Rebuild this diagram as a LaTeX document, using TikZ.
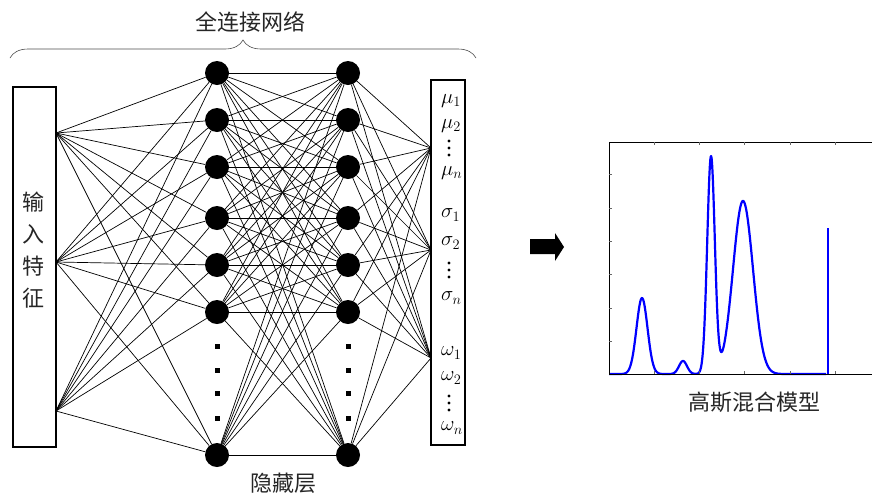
\documentclass[tikz,border=0pt]{standalone}
\usepackage{fontspec}
\newfontfamily\cjk{Noto Sans CJK SC}
\usetikzlibrary{decorations.pathreplacing}
\begin{document}
\begin{tikzpicture}[x=1pt,y=-1pt,
  neuron/.style={circle,fill=black,minimum size=24pt,inner sep=0pt},
  link/.style={line width=0.7pt,black},
  frame/.style={line width=1.2pt,black},
  lab/.style={anchor=west,inner sep=0pt,font=\fontsize{21}{22}\selectfont},
  vdot/.style={rectangle,fill=black,minimum size=5pt,inner sep=0pt},
  pdot/.style={circle,fill=black,minimum size=3.4pt,inner sep=0pt},
  cn/.style={font=\cjk\fontsize{22}{24}\selectfont,text=black!85,inner sep=0pt},
  tick/.style={line width=0.5pt,black!60},
  curve/.style={blue,line width=2.2pt,line join=round},
  declare function={g(\t,\m,\s)=exp(max(-12,-0.5*((\t-\m)/\s)^2));}
]
\useasboundingbox (0,0) rectangle (872,496);

% title and brace
\node[cn] (title) at (250,22) {全连接网络};
\draw[decorate,decoration={brace,amplitude=18pt},line width=0.6pt,black!70] (10,58) -- (476,58);

% input box
\draw[frame] (13,87) rectangle (56,447);
\node[cn,align=center,font=\cjk\fontsize{22}{32}\selectfont] (inlab) at (34,250) {输\\入\\特\\征};
\coordinate (in1) at (56,133);
\coordinate (in2) at (56,262);
\coordinate (in3) at (56,411);

% output box
\draw[frame] (431,80) rectangle (465,445);
\coordinate (out1) at (431,148);
\coordinate (out2) at (431,250);
\coordinate (out3) at (431,358);

% hidden layers
\foreach \i/\y in {1/73,2/120,3/167,4/218,5/265,6/312,7/455} {
  \node[neuron] (a\i) at (217,\y) {};
  \node[neuron] (b\i) at (348,\y) {};
}
\foreach \y in {346,370,393,418} {
  \node[vdot] (da\y) at (217,\y) {};
  \node[vdot] (db\y) at (348,\y) {};
}

% connections
\foreach \i in {1,2,3} \foreach \j in {1,...,7} \draw[link] (in\i) -- (a\j);
\foreach \i in {1,...,7} \foreach \j in {1,...,7} \draw[link] (a\i) -- (b\j);
\foreach \i in {1,...,7} \foreach \j in {1,2,3} \draw[link] (b\i) -- (out\j);

\node[cn] (hid) at (283,483) {隐藏层};

% output labels
\node[lab] (m1) at (441,101) {$\mu_1$};
\node[lab] (m2) at (441,126) {$\mu_2$};
\node[lab] (mn) at (441,173) {$\mu_n$};
\node[lab] (s1) at (441,215) {$\sigma_1$};
\node[lab] (s2) at (441,243) {$\sigma_2$};
\node[lab] (sn) at (441,298) {$\sigma_n$};
\node[lab] (w1) at (441,353) {$\omega_1$};
\node[lab] (w2) at (441,378) {$\omega_2$};
\node[lab] (wn) at (441,428) {$\omega_n$};
\foreach \g/\c in {m/148,s/270,w/403} {
  \node[pdot] (\g d1) at (449,\c-7) {};
  \node[pdot] (\g d2) at (449,\c) {};
  \node[pdot] (\g d3) at (449,\c+7) {};
}

% arrow
\fill[black] (530,239) -- (555,239) -- (555,233) -- (564,247) -- (555,261) -- (555,254) -- (530,254) -- cycle;

% plot
\draw[curve] plot[domain=609:826,samples=500]
  (\x,{374-(76*g(\x,642,5.5)+13*g(\x,683,4)+217*g(\x,711,3.8)+173*g(\x,743,10))});
\draw[blue,line width=2pt] (828,374) -- (828,228);
\draw[line width=1pt,black] (872,142) -- (609,142) -- (609,374) -- (872,374);
\foreach \x in {654,699,744,790,835} {
  \draw[tick] (\x,142) -- (\x,145);
  \draw[tick] (\x,374) -- (\x,371);
}
\foreach \y in {174,208,241,274,308,341} \draw[tick] (609,\y) -- (612,\y);
\node[cn] (gmm) at (754,402) {高斯混合模型};
\end{tikzpicture}
\end{document}
